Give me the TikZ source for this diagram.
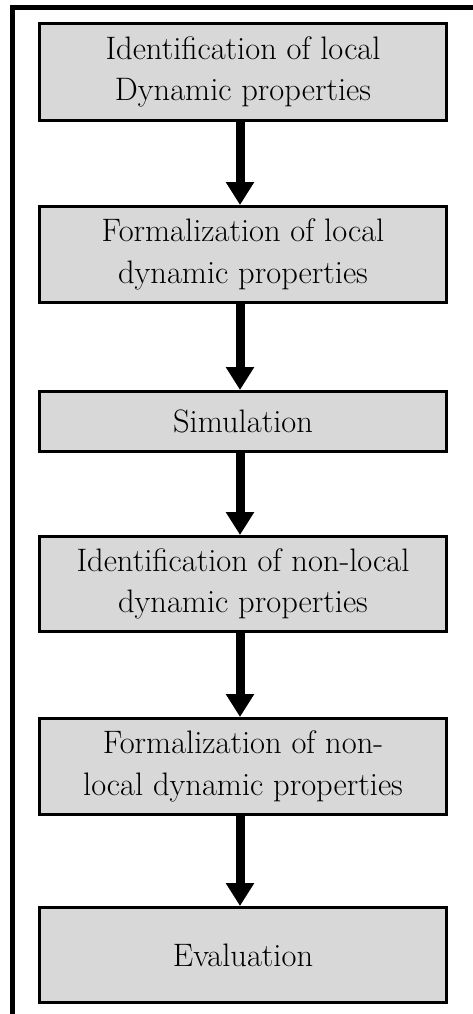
\documentclass[tikz,border=0pt]{standalone}
\usetikzlibrary{arrows.meta}
\definecolor{boxgray}{HTML}{D8D8D8}
\begin{document}
\begin{tikzpicture}[x=1pt,y=-1pt,
  stepbox/.style={draw=black, line width=3pt, fill=boxgray, minimum width=407pt,
    inner sep=0pt, align=center, font=\fontsize{32.5}{41.7}\selectfont},
  flow/.style={line width=9pt, -{Triangle[length=23pt,width=27pt]}}]
\useasboundingbox (0,0) rectangle (473,1014);

% open frame: top and left edges
\draw[line width=5pt] (12.5,1014) -- (12.5,7.5) -- (473,7.5);

% process steps
\node[stepbox, minimum height=97pt] (n1) at (243,72)
  {Identification of local\\Dynamic properties};
\node[stepbox, minimum height=96pt] (n2) at (243,254.5)
  {Formalization of local\\dynamic properties};
\node[stepbox, minimum height=60pt] (n3) at (243,421.5)
  {Simulation};
\node[stepbox, minimum height=95pt] (n4) at (243,584)
  {Identification of non-local\\dynamic properties};
\node[stepbox, minimum height=96pt] (n5) at (243,766.5)
  {Formalization of non-\\local dynamic properties};
\node[stepbox, minimum height=95pt] (n6) at (243,955)
  {Evaluation};

% flow arrows
\foreach \a/\b in {n1/n2, n2/n3, n3/n4, n4/n5, n5/n6}
  \draw[flow] ([xshift=-3pt]\a.south) -- ([xshift=-3pt]\b.north);
\end{tikzpicture}
\end{document}
